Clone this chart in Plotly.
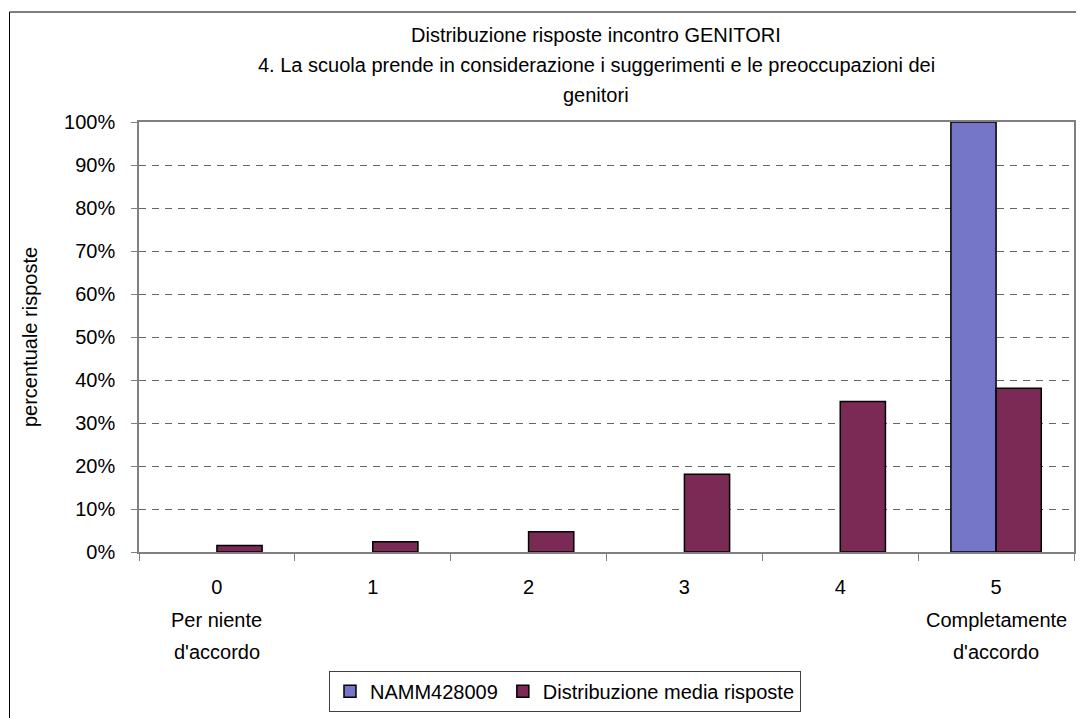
import plotly.graph_objects as go

categories = ["0", "1", "2", "3", "4", "5"]
tick_labels = ["0", "1", "2", "3", "4", "5"]
school_name = "NAMM428009"
school_values = [0.0, 0.0, 0.0, 0.0, 0.0, 1.00]
avg_name = "Distribuzione media risposte"
avg_values = [0.015, 0.024, 0.047, 0.181, 0.350, 0.381]
sub_labels = {"0": ["Per niente", "d'accordo"], "5": ["Completamente", "d'accordo"]}
title_lines = [
    "Distribuzione risposte incontro GENITORI",
    "4. La scuola prende in considerazione i suggerimenti e le preoccupazioni dei",
    "genitori",
]
y_title = "percentuale risposte"

FONT = "Liberation Sans, Arial, sans-serif"
FS = 20


def visible(values):
    # zero-height bars are not drawn in the original chart
    return [v if v > 0 else None for v in values]


fig = go.Figure()
fig.add_trace(go.Bar(
    x=categories, y=visible(school_values), name=school_name,
    marker=dict(color="#7676C8", line=dict(color="#000000", width=1.5)),
))
fig.add_trace(go.Bar(
    x=categories, y=visible(avg_values), name=avg_name,
    marker=dict(color="#7A2A55", line=dict(color="#000000", width=1.5)),
))

annotations = []
title_y = [1.2024, 1.1326, 1.0628]
for txt, yy in zip(title_lines, title_y):
    annotations.append(dict(text=txt, x=0.489, y=yy, xref="paper", yref="paper",
                            xanchor="center", yanchor="middle", showarrow=False,
                            font=dict(family=FONT, size=FS, color="#000000")))
sub_y = [-0.1581, -0.2325]
for cat, lines in sub_labels.items():
    for txt, yy in zip(lines, sub_y):
        annotations.append(dict(text=txt, x=cat, y=yy, xref="x", yref="paper",
                                xanchor="center", yanchor="middle", showarrow=False,
                                font=dict(family=FONT, size=FS, color="#000000")))

fig.update_layout(
    template="none",
    width=1084, height=718,
    margin=dict(l=131, r=18, t=114, b=174, autoexpand=False),
    paper_bgcolor="#FFFFFF", plot_bgcolor="#FFFFFF",
    font=dict(family=FONT, size=FS, color="#000000"),
    barmode="group", bargap=0.42, bargroupgap=0.0,
    showlegend=True,
    legend=dict(orientation="h", x=0.4556, xanchor="center", y=-0.2763, yanchor="top",
                bordercolor="#404040", borderwidth=1, bgcolor="#FFFFFF",
                font=dict(family=FONT, size=FS), itemwidth=30),
    annotations=annotations,
    shapes=[dict(type="rect", xref="paper", yref="paper", x0=-0.1385, y0=-0.5,
                 x1=1.2, y1=1.2558, line=dict(color="#000000", width=1),
                 fillcolor="rgba(0,0,0,0)", layer="below")],
)
fig.update_xaxes(
    type="category", tickvals=categories, ticktext=tick_labels, automargin=False,
    categoryorder="array", categoryarray=categories,
    tickson="boundaries", ticks="outside", ticklen=7, tickcolor="#808080",
    showline=True, linecolor="#808080", linewidth=1.5, mirror=True,
    showgrid=False, zeroline=False, tickfont=dict(family=FONT, size=FS),
    ticklabelstandoff=16, range=[-0.5, 5.5],
)
fig.update_yaxes(
    range=[0, 1], dtick=0.1, tickformat=".0%", automargin=False,
    ticks="outside", ticklen=6, tickcolor="#808080",
    showline=True, linecolor="#808080", linewidth=1.5, mirror=True,
    showgrid=True, gridcolor="#666666", gridwidth=1, griddash="7px,6px",
    zeroline=False, ticklabelstandoff=12,
    title=dict(text=y_title, font=dict(family=FONT, size=FS), standoff=21),
    tickfont=dict(family=FONT, size=FS),
)

fig.write_html("out.html")
